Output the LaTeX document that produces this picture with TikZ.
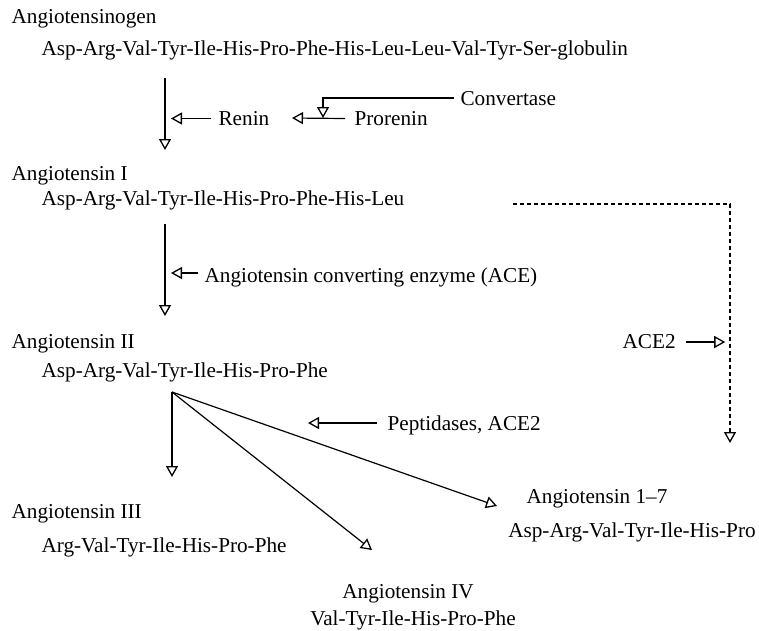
\documentclass[tikz,border=0pt]{standalone}
\usepackage{fontspec}
\setmainfont{Liberation Serif}
\usetikzlibrary{arrows.meta}

\begin{document}
\begin{tikzpicture}[x=1pt, y=-1pt, line width=1.2pt,
    lbl/.style={inner sep=0pt, anchor=base west, font=\fontsize{21.2}{25}\selectfont},
    tip/.style={-{Triangle[open, length=11pt, width=12pt, line width=1.3pt]}},
    dash line/.style={dash pattern=on 4pt off 3pt}]
    \useasboundingbox (0,0) rectangle (759,630);
    \node[lbl] (agen) at (11,23) {Angiotensinogen};
    \node[lbl] (agenseq) at (41,55) {Asp-Arg-Val-Tyr-Ile-His-Pro-Phe-His-Leu-Leu-Val-Tyr-Ser-globulin};
    \node[lbl] (renin) at (218,125) {Renin};
    \node[lbl] (prorenin) at (354,125) {Prorenin};
    \node[lbl] (convertase) at (460,105) {Convertase};
    \node[lbl] (ang1) at (11,180) {Angiotensin I};
    \node[lbl] (ang1seq) at (41,205) {Asp-Arg-Val-Tyr-Ile-His-Pro-Phe-His-Leu};
    \node[lbl] (ace) at (204,282) {Angiotensin converting enzyme (ACE)};
    \node[lbl] (ang2) at (11,348) {Angiotensin II};
    \node[lbl] (ang2seq) at (41,377) {Asp-Arg-Val-Tyr-Ile-His-Pro-Phe};
    \node[lbl] (ace2) at (622,348) {ACE2};
    \node[lbl] (pept) at (387,430) {Peptidases, ACE2};
    \node[lbl] (ang3) at (11,518) {Angiotensin III};
    \node[lbl] (ang3seq) at (41,552) {Arg-Val-Tyr-Ile-His-Pro-Phe};
    \node[lbl, anchor=base] (ang17) at (597,503) {Angiotensin 1--7};
    \node[lbl, anchor=base] (ang17seq) at (632,537) {Asp-Arg-Val-Tyr-Ile-His-Pro};
    \node[lbl, anchor=base] (ang4) at (408,598) {Angiotensin IV};
    \node[lbl, anchor=base] (ang4seq) at (413,625) {Val-Tyr-Ile-His-Pro-Phe};

    \coordinate (s1) at (165,78);
    \coordinate (e1) at (165,150);
    \coordinate (s2) at (165,224);
    \coordinate (e2) at (165,316);
    \coordinate (fork) at (172,392);
    \coordinate (e3) at (172,477);
    \coordinate (e4) at (372,550);
    \coordinate (e17) at (497,506);
    \coordinate (dstart) at (513,204);
    \coordinate (dend) at (730,443);
    \coordinate (cvtip) at (323,118);
    \coordinate (prtip) at (292,118);

    \draw[tip] (s1) -- (e1);
    \draw[tip] ([xshift=-7pt, yshift=6.5pt]renin.base west) -- ++(-40,0);
    \draw[tip] ([xshift=-9pt, yshift=6.5pt]prorenin.base west) -- (prtip);
    \draw[tip] ([xshift=-6pt, yshift=7pt]convertase.base west) -| (cvtip);
    \draw[tip] (s2) -- (e2);
    \draw[tip] ([xshift=-6pt, yshift=9pt]ace.base west) -- ++(-27,0);
    \draw[tip, dash line] (dstart) -| (dend);
    \draw[tip] ([xshift=10pt, yshift=6pt]ace2.base east) -- ++(39,0);
    \draw[tip] (fork) -- (e3);
    \draw[tip] (fork) -- (e4);
    \draw[tip] (fork) -- (e17);
    \draw[tip] ([xshift=-10pt, yshift=7pt]pept.base west) -- ++(-69,0);
\end{tikzpicture}
\end{document}
